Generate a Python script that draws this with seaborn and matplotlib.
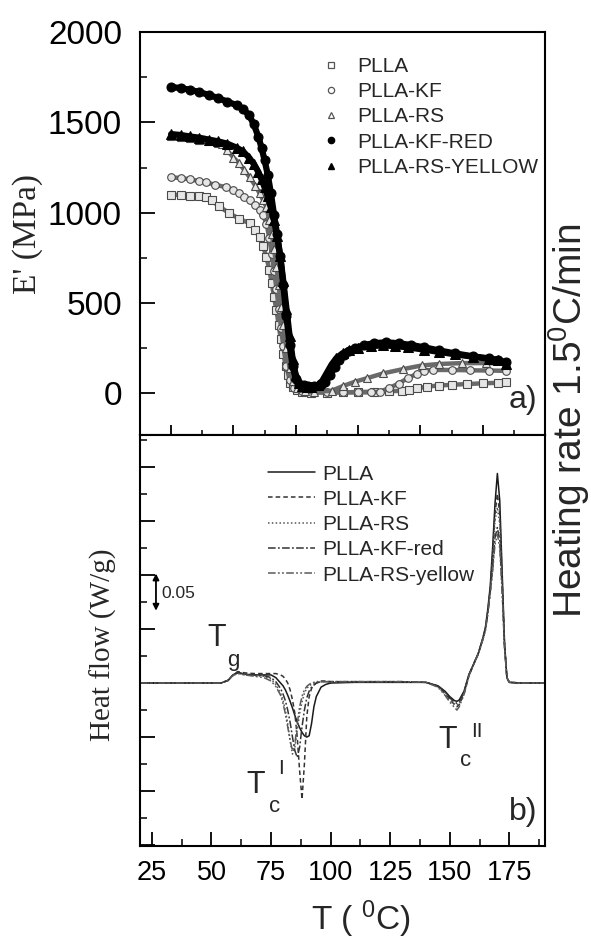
import matplotlib
matplotlib.use("Agg")
import matplotlib.pyplot as plt
from matplotlib.lines import Line2D
from matplotlib.ticker import MultipleLocator, NullFormatter
import seaborn as sns

sns.set_theme(style="ticks")
plt.rcParams["font.family"] = ["Liberation Sans", "DejaVu Sans"]
plt.rcParams["mathtext.fontset"] = "custom"
plt.rcParams["mathtext.rm"] = "Liberation Sans"
plt.rcParams["mathtext.it"] = "Liberation Sans"

# ---------------- panel a) storage modulus (DMA) ----------------
series_a = ["PLLA", "PLLA-KF", "PLLA-RS", "PLLA-KF-RED", "PLLA-RS-YELLOW"]

t_plla = [20, 23, 26, 29, 31.3, 33, 35.4, 38.7, 41.9, 45.2, 47, 48.4, 49.5, 50.6, 51.5, 52.3, 53, 53.8,
          54.5, 55.2, 56, 56.8, 57.5, 58.3, 59.2, 60.3, 62, 65, 70, 75, 80, 85, 90, 94, 96.5, 99, 102,
          106, 110, 115, 120, 125, 127.5]
e_plla = [1100, 1098, 1095, 1090, 1085, 1068, 1035, 997, 966, 941, 905, 864, 815, 753, 685, 609, 535, 460,
          380, 300, 220, 150, 100, 60, 35, 17, 8, 5, 5, 6, 8, 10, 12, 15, 20, 28, 38,
          44, 48, 52, 56, 59, 62]

t_kf = [20, 23, 26, 29, 31.3, 34, 37.7, 40, 41.9, 43.5, 45.2, 47, 48.4, 49.5, 50.6, 51.5, 52.3, 53, 53.8,
        54.5, 55.3, 56, 57, 58, 59.5, 62, 66, 70, 75, 80, 84, 87, 90, 93, 96, 99, 101, 104, 110, 116,
        122, 127.5]
e_kf = [1196, 1192, 1185, 1175, 1168, 1155, 1141, 1125, 1107, 1088, 1068, 1040, 1013, 985, 940, 860, 770, 680, 580,
        470, 360, 260, 150, 75, 30, 12, 8, 6, 6, 6, 6, 10, 30, 55, 85, 110, 127, 130, 130, 128,
        127, 125]

t_rs = [20, 23, 26, 29, 32, 35, 36.4, 38, 40, 41.9, 43.5, 45.2, 47, 48.4, 49.5, 50.6, 51.5, 52.3, 53, 53.8,
        54.5, 55.3, 56, 57, 58, 59, 60.5, 63, 66, 71.5, 75, 79, 83, 88, 94.5, 100.5, 106, 113.5, 121, 127.5]
e_rs = [1425, 1420, 1412, 1405, 1395, 1388, 1380, 1345, 1305, 1273, 1235, 1196, 1150, 1107, 1070, 1030, 960, 880, 800, 700,
        600, 480, 380, 250, 140, 70, 30, 12, 8, 15, 40, 65, 85, 111, 135, 155, 163, 168, 168, 166]

t_kfred = [20, 23, 26, 29, 32, 35, 38, 41, 43, 45, 46.5, 48, 49, 50, 51, 52, 53, 54, 55, 56, 57, 58, 59, 60,
           61, 62.5, 64, 66, 68, 69.5, 71, 72.5, 74, 75.5, 77, 79, 82, 85, 89, 93, 97, 101, 106, 111,
           117, 122, 125, 127.5]
e_kfred = [1695, 1690, 1680, 1668, 1652, 1635, 1615, 1595, 1575, 1540, 1490, 1420, 1360, 1290, 1210, 1110, 990, 880,
           760, 600, 430, 270, 150, 80, 55, 45, 42, 42, 48, 62, 100, 145, 185, 215, 235, 252, 268, 278, 283,
           278, 268, 256, 238, 222, 205, 194, 185, 172]

t_rsy = [20, 23, 26, 29, 32, 35, 38, 41, 43, 45, 46.5, 48, 49, 50, 51, 52, 53, 54, 55, 56, 57, 58, 59, 60,
         61, 62, 63.5, 65, 67, 68.5, 70, 71.5, 73, 75, 77, 80, 84, 88, 92, 96, 101, 106, 111, 117, 122,
         125, 127.5]
e_rsy = [1435, 1430, 1422, 1415, 1405, 1395, 1382, 1360, 1340, 1305, 1270, 1225, 1185, 1140, 1090, 1030, 960, 870,
         760, 620, 470, 320, 190, 100, 60, 42, 35, 35, 45, 70, 115, 160, 195, 222, 240, 253, 262, 266,
         262, 255, 243, 230, 217, 203, 192, 184, 165]

# ---------------- panel b) DSC heat flow ----------------
series_b = ["PLLA", "PLLA-KF", "PLLA-RS", "PLLA-KF-red", "PLLA-RS-yellow"]
t_dsc = [20, 30, 40, 50, 54, 57, 59, 61, 64, 68, 72, 75, 77, 79, 80, 81, 82, 83, 84, 85, 86, 87, 88, 89,
         90, 91, 92, 93, 94, 96, 98, 100, 110, 120, 130, 140, 145, 148, 150, 152, 153, 154, 156, 158, 160,
         162, 164, 165, 166, 167, 168, 169, 170, 171, 172, 173, 174, 175, 180, 190]
hf_plla = [0, 0, 0, 0, 0, 0.004, 0.012, 0.016, 0.013, 0.012, 0.012, 0.012, 0.008, 0.0, -0.004, -0.01, -0.018,
           -0.027, -0.037, -0.048, -0.058, -0.066, -0.073, -0.078, -0.08, -0.078, -0.06, -0.035, -0.02, -0.006,
           -0.002, 0.0, 0.001, 0.001, 0.001, 0.001, -0.004, -0.012, -0.02, -0.026, -0.027, -0.025, -0.012,
           0.012, 0.028, 0.044, 0.068, 0.083, 0.11, 0.143, 0.2, 0.265, 0.31, 0.27, 0.165, 0.06, 0.008, 0.001,
           0.0, 0.0]
hf_kf = [0, 0, 0, 0, 0, 0.004, 0.012, 0.017, 0.015, 0.014, 0.014, 0.014, 0.014, 0.012, 0.01, 0.006, 0.0,
         -0.01, -0.025, -0.045, -0.08, -0.13, -0.172, -0.12, -0.05, -0.02, -0.008, -0.003, 0.0, 0.003, 0.003,
         0.002, 0.002, 0.002, 0.002, 0.001, -0.005, -0.015, -0.024, -0.032, -0.035, -0.032, -0.016, 0.01,
         0.027, 0.043, 0.066, 0.08, 0.105, 0.138, 0.19, 0.25, 0.28, 0.25, 0.155, 0.058, 0.008, 0.001, 0.0, 0.0]
hf_rs = [0, 0, 0, 0, 0, 0.004, 0.012, 0.015, 0.012, 0.011, 0.01, 0.006, -0.002, -0.015, -0.025, -0.04, -0.06,
         -0.085, -0.105, -0.095, -0.07, -0.045, -0.028, -0.015, -0.008, -0.004, -0.002, 0.0, 0.002, 0.002,
         0.002, 0.002, 0.002, 0.002, 0.002, 0.001, -0.005, -0.016, -0.025, -0.031, -0.033, -0.03, -0.015,
         0.011, 0.028, 0.044, 0.066, 0.081, 0.106, 0.138, 0.185, 0.24, 0.26, 0.235, 0.15, 0.056, 0.008,
         0.001, 0.0, 0.0]
hf_kfred = [0, 0, 0, 0, 0, 0.004, 0.011, 0.015, 0.013, 0.012, 0.011, 0.008, 0.002, -0.008, -0.016, -0.026,
            -0.04, -0.058, -0.08, -0.1, -0.11, -0.095, -0.065, -0.04, -0.022, -0.012, -0.006, -0.003, 0.0,
            0.002, 0.002, 0.002, 0.002, 0.002, 0.002, 0.001, -0.004, -0.013, -0.022, -0.028, -0.03, -0.028,
            -0.014, 0.012, 0.028, 0.044, 0.067, 0.08, 0.104, 0.135, 0.17, 0.215, 0.23, 0.21, 0.14, 0.054,
            0.008, 0.001, 0.0, 0.0]
hf_rsy = [0, 0, 0, 0, 0, 0.004, 0.011, 0.014, 0.012, 0.01, 0.008, 0.003, -0.005, -0.018, -0.03, -0.045, -0.065,
          -0.085, -0.1, -0.09, -0.06, -0.035, -0.02, -0.01, -0.005, -0.002, 0.0, 0.001, 0.002, 0.002, 0.002,
          0.002, 0.002, 0.002, 0.002, 0.001, -0.006, -0.018, -0.028, -0.036, -0.04, -0.035, -0.017, 0.01,
          0.027, 0.043, 0.065, 0.078, 0.102, 0.132, 0.165, 0.205, 0.22, 0.2, 0.135, 0.052, 0.008, 0.001, 0.0,
          0.0]

x_ticks_b = [25, 50, 75, 100, 125, 150, 175]
y_ticks_a = [0, 500, 1000, 1500, 2000]

# ---------------- figure ----------------
fig = plt.figure(figsize=(5.91, 9.41), dpi=100)
ax1 = fig.add_axes([0.2369, 0.5377, 0.6853, 0.4283])
ax2 = fig.add_axes([0.2369, 0.1010, 0.6853, 0.4368])

gray_style = dict(color="#6a6a6a", linewidth=3.2, markerfacecolor="#e6e6e6",
                  markeredgecolor="#4a4a4a", markeredgewidth=0.8, markersize=5.5)
black_style = dict(color="black", linewidth=4.5, markerfacecolor="black",
                   markeredgecolor="black", markersize=6.5)

a_data = [
    (t_plla, e_plla, "s", gray_style),
    (t_kf, e_kf, "o", gray_style),
    (t_rs, e_rs, "^", gray_style),
    (t_kfred, e_kfred, "o", black_style),
    (t_rsy, e_rsy, "^", black_style),
]
for tx, ey, mk, st in a_data:
    sns.lineplot(x=tx, y=ey, ax=ax1, marker=mk, estimator=None, sort=False, legend=False, **st)

ax1.set_xlim(10, 140)
ax1.set_ylim(-230, 2000)
ax1.xaxis.set_major_locator(MultipleLocator(20))
ax1.xaxis.set_minor_locator(MultipleLocator(10))
ax1.xaxis.set_major_formatter(NullFormatter())
ax1.set_yticks(y_ticks_a)
ax1.yaxis.set_minor_locator(MultipleLocator(250))
ax1.tick_params(axis="y", which="major", direction="in", length=10.5, width=1.3, labelsize=24, pad=13)
ax1.tick_params(axis="y", which="minor", direction="in", length=5, width=1.3)
ax1.tick_params(axis="x", which="major", direction="in", length=7, width=1.3)
ax1.tick_params(axis="x", which="minor", direction="in", length=3.5, width=1.3)
ax1.set_ylabel("E' (MPa)", family=["Liberation Serif", "DejaVu Serif"], fontsize=24)
ax1.yaxis.set_label_coords(-0.24, 0.5)
ax1.set_xlabel("")
ax1.text(0.982, 0.087, "a)", transform=ax1.transAxes, ha="right", va="center", fontsize=23)

leg_handles_a = [
    Line2D([], [], ls="none", marker="s", ms=4.5, mfc="white", mec="#555555", mew=0.9),
    Line2D([], [], ls="none", marker="o", ms=4.5, mfc="white", mec="#555555", mew=0.9),
    Line2D([], [], ls="none", marker="^", ms=4.5, mfc="white", mec="#555555", mew=0.9),
    Line2D([], [], ls="none", marker="o", ms=4.5, mfc="black", mec="black"),
    Line2D([], [], ls="none", marker="^", ms=4.5, mfc="black", mec="black"),
]
ax1.legend(leg_handles_a, series_a, loc="upper left", bbox_to_anchor=(0.445, 0.938),
           frameon=False, fontsize=15, handlelength=1.0, handletextpad=0.8,
           labelspacing=0.3, borderpad=0, borderaxespad=0)

line_styles = ["-", (0, (3, 2)), (0, (1, 1.5)), (0, (5, 1.5, 1.2, 1.5)), (0, (5, 1.5, 1.2, 1.5, 1.2, 1.5))]
line_colors = ["#1a1a1a", "#333333", "#555555", "#333333", "#5a5a5a"]
b_vals = [hf_plla, hf_kf, hf_rs, hf_kfred, hf_rsy]
for vals, ls, c in zip(b_vals, line_styles, line_colors):
    sns.lineplot(x=t_dsc, y=vals, ax=ax2, color=c, linewidth=1.1, linestyle=ls,
                 estimator=None, sort=False, legend=False)

ax2.set_xlim(20, 190)
ax2.set_ylim(-0.241, 0.367)
ax2.set_xticks(x_ticks_b)
ax2.xaxis.set_minor_locator(MultipleLocator(12.5))
ax2.yaxis.set_major_locator(MultipleLocator(0.08))
ax2.yaxis.set_minor_locator(MultipleLocator(0.04))
ax2.yaxis.set_major_formatter(NullFormatter())
ax2.tick_params(axis="x", which="major", direction="in", length=10, width=1.3, labelsize=19.5, pad=10)
ax2.tick_params(axis="x", which="minor", direction="in", length=5, width=1.3)
ax2.tick_params(axis="y", which="major", direction="in", length=10.5, width=1.3)
ax2.tick_params(axis="y", which="minor", direction="in", length=5, width=1.3)
ax2.set_ylabel("Heat flow (W/g)", family=["Liberation Serif", "DejaVu Serif"], fontsize=21)
ax2.yaxis.set_label_coords(-0.057, 0.49)
ax2.set_xlabel(r"T ( $^{0}$C)", fontsize=24)
ax2.xaxis.set_label_coords(0.546, -0.127)
ax2.text(0.982, 0.083, "b)", transform=ax2.transAxes, ha="right", va="center", fontsize=23)

leg_handles_b = [Line2D([], [], color=c, ls=ls, lw=1.1) for ls, c in zip(line_styles, line_colors)]
ax2.legend(leg_handles_b, series_b, loc="upper left", bbox_to_anchor=(0.316, 0.928),
           frameon=False, fontsize=15, handlelength=2.26, handletextpad=0.34,
           labelspacing=0.3, borderpad=0, borderaxespad=0)

# scale arrow
ax2.annotate("", xy=(26.7, 0.107), xytext=(26.7, 0.162),
             arrowprops=dict(arrowstyle="<|-|>", color="black", lw=1.3, mutation_scale=9,
                             shrinkA=0, shrinkB=0))
ax2.text(29.0, 0.133, "0.05", fontsize=12.5, ha="left", va="center")

# transition labels
ax2.text(52.3, 0.0666, "T", fontsize=22, ha="center", va="center")
ax2.text(59.0, 0.0326, "g", fontsize=16, ha="center", va="center")
ax2.text(68.7, -0.151, "T", fontsize=22, ha="center", va="center")
ax2.text(76.3, -0.182, "c", fontsize=16, ha="center", va="center")
ax2.text(79.2, -0.127, "I", fontsize=15, ha="center", va="center")
ax2.text(149.0, -0.084, "T", fontsize=22, ha="center", va="center")
ax2.text(156.5, -0.114, "c", fontsize=16, ha="center", va="center")
ax2.text(161.6, -0.071, "II", fontsize=15, ha="center", va="center")

for ax in (ax1, ax2):
    for sp in ax.spines.values():
        sp.set_linewidth(1.5)
        sp.set_color("black")
        sp.set_visible(True)
    ax.tick_params(colors="black")

fig.text(0.963, 0.5526, r"Heating rate 1.5$^{0}$C/min", rotation=90, ha="center", va="center",
         fontsize=28)

fig.savefig("out.png", dpi=100)
